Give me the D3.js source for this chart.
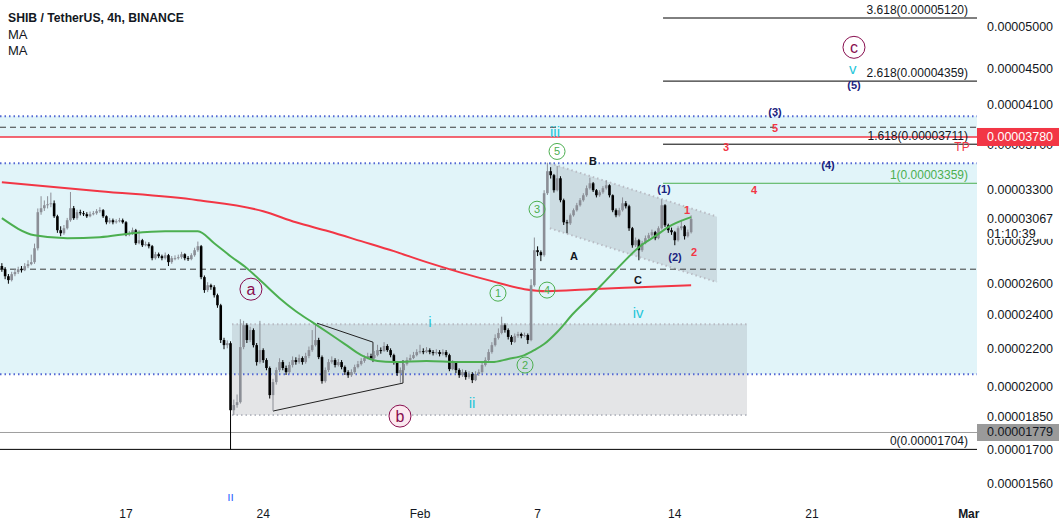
<!DOCTYPE html>
<html><head><meta charset="utf-8">
<script src="https://cdn.jsdelivr.net/npm/d3@7/dist/d3.min.js"></script>
<style>body{margin:0;background:#fff;overflow:hidden}svg{display:block;font-family:"Liberation Sans",Arial,sans-serif}</style>
</head><body><svg id="c" width="1059" height="528"></svg>
<script>
// ---------- data (prices in units of 1e-8 USDT) ----------
const UNIT = 1e-8;
const candleStart = "2022-01-10T16:00:00Z";
const candleHours = 4;
const firstOpen = 2720;
const closeVals = [
2698,2650,2624,2664,2678,2698,2691,2719,2733,2747,
2846,3120,3152,3176,3184,3192,3088,2980,2957,2995,
3057,3152,3073,3120,3112,3104,3088,3104,3112,3128,
3136,3088,3041,3057,3041,3049,3057,3041,2949,2957,
2980,2883,2905,2868,2876,2861,2775,2803,2789,2775,
2796,2747,2775,2775,2782,2803,2775,2768,2796,2832,
2861,2644,2558,2590,2577,2525,2461,2252,2223,2234,
1883,1908,1922,2212,2339,2252,2310,2223,2129,2195,
2140,2097,1957,2023,2086,2129,2097,2075,2113,2140,
2129,2151,2129,2162,2195,2223,2252,2156,2028,2086,
2129,2140,2113,2129,2102,2075,2059,2075,2102,2118,
2135,2151,2162,2151,2167,2195,2190,2218,2195,2167,
2129,2070,2086,2118,2140,2151,2167,2184,2189,2184,
2195,2184,2178,2184,2173,2184,2167,2091,2124,2086,
2059,2075,2049,2065,2033,2065,2075,2113,2140,2184,
2223,2264,2293,2339,2310,2270,2241,2276,2287,2276,
2281,2252,2590,2832,2818,2796,3275,3464,3429,3300,
3402,3217,3041,3033,3096,3136,3176,3217,3258,3317,
3359,3300,3258,3283,3317,3342,3258,3136,3096,3136,
3192,3168,2995,2868,2905,2832,2883,2920,2942,2965,
2920,2995,3176,3018,2980,2965,2905,2995,3010,2935,
2965,3067];
const highVals = [
2740,2712,2665,2680,2700,2715,2720,2740,2760,2800,
2880,3150,3250,3215,3250,3280,3215,3100,3010,3020,
3075,3285,3170,3140,3140,3130,3120,3125,3130,3145,
3160,3145,3095,3075,3070,3065,3075,3070,3050,2975,
3000,2990,2980,2915,2895,2890,2870,2820,2815,2800,
2815,2805,2790,2795,2800,2820,2810,2790,2810,2850,
2895,2870,2655,2610,2600,2590,2535,2470,2265,2250,
2245,1935,1960,2375,2365,2350,2330,2320,2235,2365,
2205,2150,2105,2040,2100,2150,2140,2110,2130,2160,
2155,2170,2160,2180,2215,2310,2345,2265,2165,2100,
2145,2160,2150,2145,2140,2110,2085,2090,2115,2135,
2150,2165,2180,2175,2190,2225,2210,2240,2228,2205,
2175,2135,2100,2130,2155,2170,2185,2200,2225,2205,
2212,2205,2195,2200,2195,2200,2195,2175,2140,2130,
2095,2090,2085,2080,2075,2080,2090,2130,2155,2200,
2240,2285,2320,2390,2350,2320,2280,2290,2300,2295,
2295,2290,2630,2925,2860,2830,3300,3540,3500,3440,
3510,3420,3230,3060,3110,3150,3195,3235,3275,3340,
3407,3370,3310,3300,3335,3385,3350,3265,3150,3155,
3240,3210,3180,3005,2925,2915,2900,2940,2960,2985,
2975,3010,3225,3185,3030,3000,2975,3010,3060,3020,
2985,3095];
const lowVals = [
2680,2630,2600,2615,2650,2665,2675,2685,2705,2725,
2735,2830,3100,3130,3150,3160,3075,2960,2935,2945,
2985,3045,3060,3060,3095,3090,3075,3080,3095,3100,
3115,3075,3025,3030,3025,3030,3040,3030,2935,2935,
2945,2870,2875,2855,2860,2845,2760,2765,2775,2760,
2765,2720,2735,2760,2765,2770,2760,2755,2760,2785,
2820,2630,2540,2545,2560,2510,2445,2235,2200,2205,
1704,1860,1895,1915,2200,2235,2240,2210,2110,2120,
2125,2085,1940,1880,2010,2075,2085,2060,2065,2100,
2115,2120,2115,2120,2150,2185,2215,2145,2015,2020,
2075,2120,2100,2105,2090,2060,2045,2050,2065,2095,
2110,2125,2145,2140,2145,2160,2175,2185,2185,2155,
2115,2055,2020,2080,2110,2130,2145,2160,2175,2172,
2178,2172,2165,2170,2160,2165,2155,2080,2085,2070,
2045,2050,2035,2040,2018,2028,2055,2068,2105,2130,
2175,2215,2255,2285,2295,2255,2225,2235,2265,2262,
2268,2230,2245,2580,2790,2754,2785,3260,3400,3280,
3290,3200,3020,2957,3020,3085,3125,3165,3205,3245,
3305,3285,3240,3245,3270,3305,3240,3120,3080,3085,
3125,3150,2975,2850,2855,2760,2820,2875,2910,2930,
2905,2912,2985,3005,2960,2945,2868,2895,2980,2910,
2925,2955];
// moving averages at given candle indices
const maFastIdx  = [0,10,20,30,40,50,60,65,70,75,80,85,90,95,100,105,110,115,120,130,140,150,155,160,163,166,170,175,180,185,190,195,200,205,211];
const maFastVals = [3073,2942,2920,2927,2957,2972,2972,2883,2789,2705,2604,2506,2424,2357,2293,2229,2167,2135,2129,2135,2129,2129,2146,2167,2195,2229,2299,2411,2512,2624,2740,2854,2935,3018,3081];
const maSlowIdx  = [0,30,60,80,90,100,110,120,130,140,150,160,167,180,195,211];
const maSlowVals = [3368,3292,3217,3128,3041,2972,2898,2825,2747,2678,2617,2564,2551,2564,2577,2590];

const priceTicks = [5000,4500,4100,3700,3300,2900,2600,2400,2200,2000,1850,1700,1560];
const timeTickDates = ["2022-01-17","2022-01-24","2022-02-01","2022-02-07","2022-02-14","2022-02-21","2022-03-01"];
const timeTickLabels = ["17","24","Feb","7","14","21","Mar"];
const lastPrice = 3067, countdown = "01:10:39", tpPrice = 3780, markPrice = 1779;
const fibNames = ["3.618","2.618","1.618","1","0"];
const fibPrices = [5120,4359,3711,3359,1704];
const fibStart = "2022-02-13T09:36:00Z";
const dottedLevels = [3985,3535,2064];
const dashedLevels = [3875,2698];
const blueZones = [[3985,3780],[3535,2064]];
const grayBox = ["2022-01-22T09:48:00Z","2022-02-17T16:24:00Z",2345,1860];
const channel = [["2022-02-07T15:00:00Z",3535],["2022-02-16T03:40:00Z",3085],["2022-02-16T03:40:00Z",2610],["2022-02-07T15:00:00Z",2995]];
const triUpper = [["2022-01-26T17:53:00Z",2351],["2022-01-29T14:24:00Z",2240],["2022-01-29T14:24:00Z",2129]];
const triLower = [["2022-01-24T12:00:00Z",1879],["2022-01-31T03:10:00Z",2018],["2022-01-31T03:10:00Z",2140]];
const waveCircled = [["a","2022-01-23T09:00:00Z",2564],["b","2022-01-30T23:30:00Z",1855],["c","2022-02-23T03:24:00Z",4751]];
const waveMinor = [["i","2022-02-01T12:00:00Z",2362],["ii","2022-02-03T15:40:00Z",1918],["iii","2022-02-07T21:20:00Z",3836],["iv","2022-02-12T03:00:00Z",2418],["v","2022-02-23T02:00:00Z",4504]];
const waveGreen = [["1","2022-02-04T23:30:00Z",2538],["2","2022-02-06T08:36:00Z",2113],["3","2022-02-06T23:18:00Z",3144],["4","2022-02-07T11:30:00Z",2558],["5","2022-02-07T23:48:00Z",3643]];
const waveABC = [["A","2022-02-08T20:36:00Z",2789],["B","2022-02-09T19:48:00Z",3553],["C","2022-02-12T03:00:00Z",2624]];
const waveNavy = [["(1)","2022-02-13T10:48:00Z",3308],["(2)","2022-02-14T00:18:00Z",2782],["(3)","2022-02-19T02:42:00Z",4026],["(4)","2022-02-21T19:36:00Z",3517],["(5)","2022-02-23T03:24:00Z",4313]];
const waveRed = [["1","2022-02-14T15:00:00Z",3136],["2","2022-02-14T23:30:00Z",2818],["3","2022-02-16T14:42:00Z",3682],["4","2022-02-18T01:00:00Z",3300],["5","2022-02-19T02:42:00Z",3865]];
const splitMarkDate = "2022-01-22T08:00:00Z";

// ---------- layout ----------
const W = 1059, H = 528, PW = 977, PH = 500;
const svg = d3.select("#c");
const x = d3.scaleUtc().domain([new Date("2022-01-17T00:00:00Z"), new Date("2022-02-21T00:00:00Z")]).range([126, 812]);
const y = d3.scaleLog().domain([5000*UNIT, 1560*UNIT]).range([27.3, 484]);
const Y = v => y(v*UNIT);
const T = s => new Date(s);
const t0 = T(candleStart).getTime();
const tIdx = i => new Date(t0 + i*candleHours*3600e3);

svg.append("defs").append("clipPath").attr("id","plot").append("rect").attr("x",0).attr("y",0).attr("width",PW).attr("height",PH);
const g = svg.append("g").attr("clip-path","url(#plot)");

// zones
blueZones.forEach(z => g.append("rect").attr("x",0).attr("width",PW).attr("y",Y(z[0])).attr("height",Y(z[1])-Y(z[0])).attr("fill","#e1f4f9"));
g.append("rect").attr("x",x(T(grayBox[0]))).attr("width",x(T(grayBox[1]))-x(T(grayBox[0])))
 .attr("y",Y(grayBox[2])).attr("height",Y(grayBox[3])-Y(grayBox[2])).attr("fill","rgba(120,123,134,0.2)");
[grayBox[2],grayBox[3]].forEach(p => g.append("line").attr("x1",x(T(grayBox[0]))).attr("x2",x(T(grayBox[1]))).attr("y1",Y(p)).attr("y2",Y(p))
 .attr("stroke","#b9bcc4").attr("stroke-width",2).attr("stroke-dasharray","1.5,3"));
g.append("path").attr("d", d3.line().x(d=>x(T(d[0]))).y(d=>Y(d[1]))(channel)+"Z").attr("fill","rgba(120,123,134,0.2)");
[[channel[0],channel[1]],[channel[3],channel[2]]].forEach(s => g.append("path").attr("d", d3.line().x(d=>x(T(d[0]))).y(d=>Y(d[1]))(s))
 .attr("stroke","#b9bcc4").attr("stroke-width",2).attr("stroke-dasharray","1.5,3").attr("fill","none"));

// horizontal levels
const hline = (p, col, w, dash, x1) => g.append("line").attr("x1",x1||0).attr("x2",PW).attr("y1",Y(p)).attr("y2",Y(p))
  .attr("stroke",col).attr("stroke-width",w).attr("stroke-dasharray",dash||null);
dottedLevels.forEach(p => hline(p,"#5468d4",2,"1.5,3"));
dashedLevels.forEach(p => hline(p,"#3a3a3a",1,"6,4"));
hline(markPrice,"#9e9e9e",1);
const fx = x(T(fibStart));
fibPrices.forEach((p,i) => hline(p, fibNames[i]==="1" ? "#4caf50" : "#000", 1, null, fibNames[i]==="0" ? 0 : fx));
hline(tpPrice,"#f23645",1.5);

// triangle
[triUpper, triLower].forEach(s => g.append("path").attr("d", d3.line().x(d=>x(T(d[0]))).y(d=>Y(d[1]))(s)).attr("fill","none").attr("stroke","#222").attr("stroke-width",1));

// moving averages
const maLine = d3.line().curve(d3.curveMonotoneX).x(d=>x(tIdx(d[0]))).y(d=>Y(d[1]));
g.append("path").attr("d", maLine(maSlowIdx.map((v,i)=>[v,maSlowVals[i]]))).attr("fill","none").attr("stroke","#f23645").attr("stroke-width",2);

// candles
const candles = closeVals.map((c,i)=>({t:tIdx(i), o: i ? closeVals[i-1] : firstOpen, h: highVals[i], l: lowVals[i], c}));
const cg = g.append("g");
candles.forEach(d => {
  const up = d.c >= d.o, col = up ? "#8b8e96" : "#000";
  const cx = x(d.t);
  cg.append("line").attr("x1",cx).attr("x2",cx).attr("y1",Y(d.h)).attr("y2",Y(d.l)).attr("stroke",col).attr("stroke-width",1);
  const yt = Y(Math.max(d.o,d.c)), yb = Y(Math.min(d.o,d.c));
  cg.append("rect").attr("x",cx-1.3).attr("width",2.6).attr("y",yt).attr("height",Math.max(1,yb-yt)).attr("fill",col);
});
g.append("path").attr("d", maLine(maFastIdx.map((v,i)=>[v,maFastVals[i]]))).attr("fill","none").attr("stroke","#4caf50").attr("stroke-width",2);

// fib labels
fibPrices.forEach((p,i) => g.append("text").attr("x",PW-9).attr("y",Y(p)-4).attr("text-anchor","end").attr("font-size",12)
  .attr("fill", fibNames[i]==="1" ? "#4caf50" : "#131722").text(`${fibNames[i]}(${(p*UNIT).toFixed(8)})`));
g.append("text").attr("x",PW-15).attr("y",Y(tpPrice)+14).attr("text-anchor","middle").attr("font-size",12).attr("fill","#f23645").text("TP");

// wave labels
const txt = (s, d, p, col, size, weight) => g.append("text").attr("x",x(T(d))).attr("y",Y(p)).attr("text-anchor","middle")
  .attr("dominant-baseline","central").attr("font-size",size).attr("font-weight",weight||"normal").attr("fill",col).text(s);
waveCircled.forEach(w => {
  g.append("circle").attr("cx",x(T(w[1]))).attr("cy",Y(w[2])).attr("r",11).attr("fill", w[0]==="b" ? "#fbe9ef" : "none").attr("stroke","#880e4f").attr("stroke-width",1);
  txt(w[0], w[1], w[2], "#880e4f", 16);
});
waveMinor.forEach(w => txt(w[0], w[1], w[2], "#26c6da", 15));
waveGreen.forEach(w => {
  g.append("circle").attr("cx",x(T(w[1]))).attr("cy",Y(w[2])).attr("r",8).attr("fill","none").attr("stroke","#4caf50").attr("stroke-width",1);
  txt(w[0], w[1], w[2], "#4caf50", 11);
});
waveABC.forEach(w => txt(w[0], w[1], w[2], "#131722", 11, "bold"));
waveNavy.forEach(w => txt(w[0], w[1], w[2], "#1a237e", 11, "bold"));
waveRed.forEach(w => txt(w[0], w[1], w[2], "#f23645", 11, "bold"));

// header
svg.append("text").attr("x",8).attr("y",21.5).attr("font-size",12.2).attr("font-weight","bold").attr("fill","#131722").text("SHIB / TetherUS, 4h, BINANCE");
svg.append("text").attr("x",8).attr("y",39).attr("font-size",13).attr("fill","#131722").text("MA");
svg.append("text").attr("x",8).attr("y",55).attr("font-size",13).attr("fill","#131722").text("MA");

// price axis
const ax = svg.append("g");
priceTicks.forEach(p => ax.append("text").attr("x",987).attr("y",Y(p)).attr("dominant-baseline","central").attr("font-size",12.5).attr("fill","#131722").text((p*UNIT).toFixed(8)));
ax.append("rect").attr("x",978).attr("y",Y(lastPrice)-9).attr("width",81).attr("height",Y(2900)-Y(lastPrice)+7).attr("fill","#fff");
ax.append("text").attr("x",987).attr("y",Y(lastPrice)).attr("dominant-baseline","central").attr("font-size",12.5).attr("fill","#131722").text((lastPrice*UNIT).toFixed(8));
ax.append("text").attr("x",987).attr("y",Y(lastPrice)+15).attr("dominant-baseline","central").attr("font-size",12.5).attr("fill","#131722").text(countdown);
ax.append("rect").attr("x",977).attr("y",Y(tpPrice)-9).attr("width",82).attr("height",18).attr("fill","#f23645");
ax.append("text").attr("x",987).attr("y",Y(tpPrice)).attr("dominant-baseline","central").attr("font-size",12.5).attr("fill","#fff").text((tpPrice*UNIT).toFixed(8));
ax.append("rect").attr("x",977).attr("y",Y(markPrice)-8.5).attr("width",82).attr("height",17).attr("fill","#9a9a9a");
ax.append("text").attr("x",987).attr("y",Y(markPrice)).attr("dominant-baseline","central").attr("font-size",12.5).attr("fill","#131722").text((markPrice*UNIT).toFixed(8));

// time axis
timeTickDates.forEach((d,i) => svg.append("text").attr("x",x(T(d+"T00:00:00Z"))).attr("y",518).attr("text-anchor","middle").attr("font-size",12)
  .attr("fill","#131722").attr("font-weight", i===6 ? "bold" : "normal").text(timeTickLabels[i]));
svg.append("text").attr("x",x(T(splitMarkDate))).attr("y",501).attr("text-anchor","middle").attr("font-size",12).attr("fill","#2962ff").text("ıı");
</script></body></html>
